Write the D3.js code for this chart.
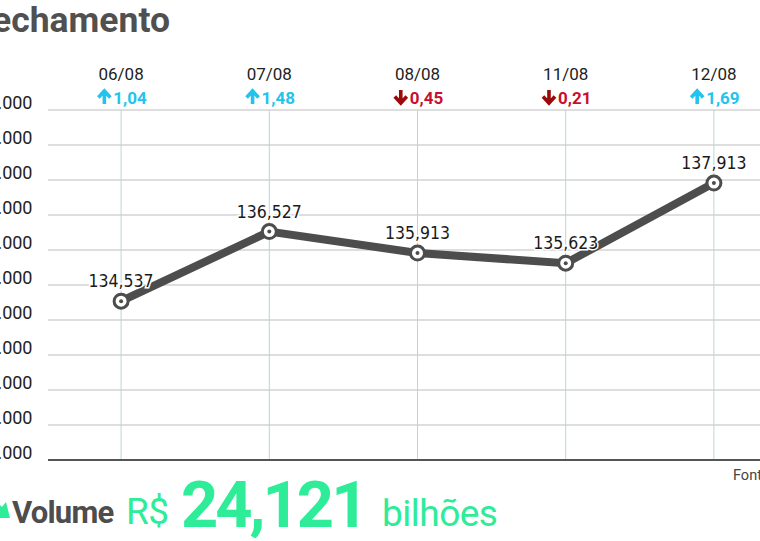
<!DOCTYPE html>
<html><head><meta charset="utf-8">
<script src="https://cdn.jsdelivr.net/npm/d3@7"></script>
<style>
html,body{margin:0;padding:0;background:#fff;}
svg{display:block;}
</style></head>
<body>
<script>
const dates = ["06/08","07/08","08/08","11/08","12/08"];
const closes = [134537,136527,135913,135623,137913];
const changes = [1.04,1.48,-0.45,-0.21,1.69];
const yTicks = [130000,131000,132000,133000,134000,135000,136000,137000,138000,139000,140000];
const titleText = "Fechamento";
const volumeLabel = "Volume";
const volumeCurrency = "R$";
const volumeValue = "24,121";
const volumeUnit = "bilhões";
const sourceText = "Fonte: B3";

const W = 760, H = 541;
const svg = d3.select("body").append("svg").attr("width", W).attr("height", H);
svg.append("rect").attr("width", W).attr("height", H).attr("fill", "#fff");

const x = d3.scalePoint().domain(dates).range([47, 788]).padding(0.5);
const y = d3.scaleLinear().domain([130000, 140000]).range([460, 110]);

const fmtComma = d3.format(",");
const ptLocale = d3.formatLocale({decimal: ",", thousands: ".", grouping: [3], currency: ["R$", ""]});
const fmtTick = ptLocale.format(",");
const fmtChange = v => d3.format(".2f")(Math.abs(v)).replace(".", ",");

// title
svg.append("text").attr("x", 170).attr("y", 32).attr("text-anchor", "end")
  .attr("font-family", "Roboto").attr("font-weight", "bold").attr("font-size", 35.5)
  .attr("fill", "#505050").text(titleText);

// horizontal gridlines
svg.append("g").selectAll("line").data(yTicks.filter(d => d !== 130000)).join("line")
  .attr("x1", 48).attr("x2", W).attr("y1", d => y(d)).attr("y2", d => y(d))
  .attr("stroke", "#bdbdbd").attr("stroke-width", 1);

// vertical gridlines
svg.append("g").selectAll("line").data(dates).join("line")
  .attr("x1", d => x(d)).attr("x2", d => x(d)).attr("y1", y(140000)).attr("y2", y(130000))
  .attr("stroke", "#b8d8d2").attr("stroke-width", 1);

// bottom axis line
svg.append("line").attr("x1", 48).attr("x2", W).attr("y1", y(130000)).attr("y2", y(130000))
  .attr("stroke", "#555").attr("stroke-width", 2);

// y tick labels
svg.append("g").selectAll("text").data(yTicks).join("text")
  .attr("x", 32.5).attr("y", d => y(d) - 1).attr("text-anchor", "end")
  .attr("font-family", "Roboto").attr("font-size", 18).attr("fill", "#222")
  .text(d => fmtTick(d));

// date labels
svg.append("g").selectAll("text").data(dates).join("text")
  .attr("x", d => x(d)).attr("y", 80).attr("text-anchor", "middle")
  .attr("font-family", "Roboto").attr("font-size", 17).attr("fill", "#222")
  .text(d => d);

// change labels
const chg = svg.append("g").selectAll("g").data(dates.map((d, i) => ({d, v: changes[i]}))).join("g");
chg.each(function(p) {
  const g = d3.select(this);
  const up = p.v >= 0;
  const txtCol = up ? "#22c4ee" : "#c8102e";
  const arrCol = up ? "#22c4ee" : "#9a0a0a";
  const t = g.append("text").attr("y", 104)
    .attr("font-family", "Roboto").attr("font-weight", "bold").attr("font-size", 17)
    .attr("fill", txtCol).text(fmtChange(p.v));
  const tw = t.node().getComputedTextLength();
  const aw = 14, gap = 2;
  const total = aw + gap + tw;
  const x0 = x(p.d) - total / 2 + 1;
  t.attr("x", x0 + aw + gap);
  const ax = x0 + aw / 2;
  const path = up
    ? `M${ax},104 V92 M${ax-6},97.5 L${ax},91 L${ax+6},97.5`
    : `M${ax},90 V102 M${ax-6},96.5 L${ax},103 L${ax+6},96.5`;
  g.append("path").attr("d", path).attr("fill", "none").attr("stroke", arrCol)
    .attr("stroke-width", 3.6).attr("stroke-linejoin", "miter");
});

// line
const pts = dates.map((d, i) => ({d, v: closes[i]}));
svg.append("path").datum(pts)
  .attr("d", d3.line().x(p => x(p.d)).y(p => y(p.v)))
  .attr("fill", "none").attr("stroke", "#4d4d4d").attr("stroke-width", 8)
  .attr("stroke-linejoin", "miter");

// value labels with halo
svg.append("g").selectAll("text").data(pts).join("text")
  .attr("x", p => x(p.d)).attr("y", p => y(p.v) - 14).attr("text-anchor", "middle")
  .attr("font-family", "DejaVu Sans Condensed").attr("font-size", 17.5).attr("fill", "#1a1a1a")
  .attr("stroke", "#fff").attr("stroke-width", 3).attr("paint-order", "stroke")
  .text(p => fmtComma(p.v));

// markers
const mk = svg.append("g").selectAll("g").data(pts).join("g")
  .attr("transform", p => `translate(${x(p.d)},${y(p.v)})`);
mk.append("circle").attr("r", 7).attr("fill", "#fff").attr("stroke", "#4d4d4d").attr("stroke-width", 3);
mk.append("circle").attr("r", 2).attr("fill", "#4d4d4d");

// source
svg.append("text").attr("x", 733).attr("y", 480)
  .attr("font-family", "Roboto").attr("font-size", 14.5).attr("fill", "#444").text(sourceText);

// volume footer
const green = "#2eec98";
svg.append("path").attr("d", "M-8,497 L2,507 L6,502 L10,518 L-6,518 L-1,513 L-10,504 Z").attr("fill", green);
svg.append("text").attr("x", 12).attr("y", 523)
  .attr("font-family", "Roboto").attr("font-weight", "bold").attr("font-size", 31)
  .attr("letter-spacing", -0.8).attr("fill", "#4d4d4d").text(volumeLabel);
svg.append("text").attr("x", 126).attr("y", 524)
  .attr("font-family", "Roboto").attr("font-size", 37).attr("letter-spacing", -0.5)
  .attr("fill", green).text(volumeCurrency);
svg.append("text").attr("x", 181).attr("y", 527)
  .attr("font-family", "Roboto").attr("font-weight", "bold").attr("font-size", 65)
  .attr("letter-spacing", -3).attr("fill", green).text(volumeValue);
svg.append("text").attr("x", 382).attr("y", 526)
  .attr("font-family", "Roboto").attr("font-size", 37).attr("letter-spacing", -0.5)
  .attr("fill", green).text(volumeUnit);
</script>
</body></html>
